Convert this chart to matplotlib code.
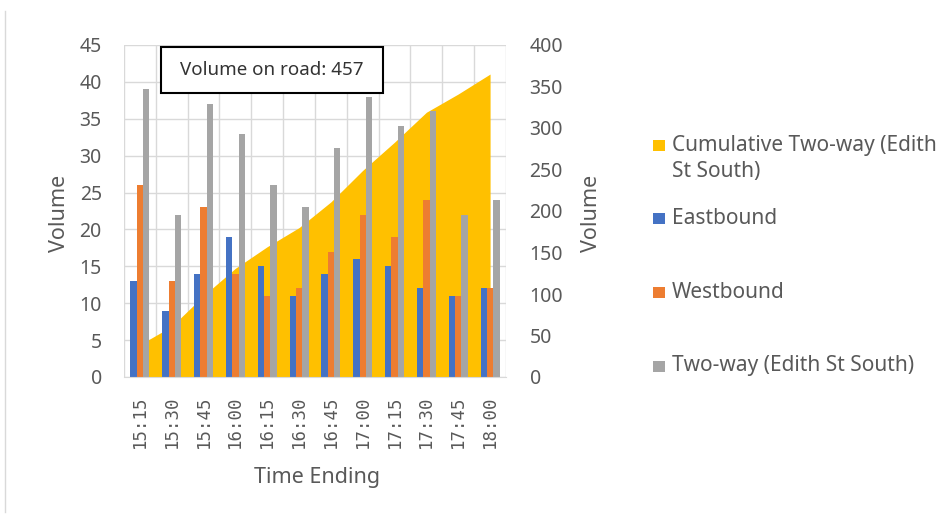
import numpy as np
import matplotlib
matplotlib.use("Agg")
import matplotlib.pyplot as plt
from matplotlib.patches import Rectangle
from matplotlib.lines import Line2D

plt.rcParams['font.family'] = ['Noto Sans', 'DejaVu Sans']

# data
times = ["15:15", "15:30", "15:45", "16:00", "16:15", "16:30",
         "16:45", "17:00", "17:15", "17:30", "17:45", "18:00"]
eastbound = [13, 9, 14, 19, 15, 11, 14, 16, 15, 12, 11, 12]
westbound = [26, 13, 23, 14, 11, 12, 17, 22, 19, 24, 11, 12]
two_way = [39, 22, 37, 33, 26, 23, 31, 38, 34, 36, 22, 24]
cumulative = [39, 61, 98, 131, 157, 180, 211, 249, 283, 319, 341, 365]
volume_on_road = 457

c_blue = "#4472C4"
c_orange = "#ED7D31"
c_gray = "#A5A5A5"
c_yellow = "#FFC000"
c_text = "#595959"
tick_size = 14
title_size = 15.5
legend_size = 15

W, H = 953, 514
fig = plt.figure(figsize=(W / 100, H / 100), dpi=100)
pos = [124 / W, 1 - 377 / H, (506 - 124) / W, (377 - 45) / H]

x = np.arange(len(times))

# background axes only for the gridlines (so the area sits on top of them)
gax = fig.add_axes(pos, zorder=0)
gax.set_xlim(-0.5, len(times) - 0.5)
gax.set_ylim(0, 45)
gax.set_xticks(np.arange(-0.5, len(times), 1))
gax.set_yticks(np.arange(0, 46, 5))
gax.grid(True, color="#d9d9d9", linewidth=1)
gax.tick_params(length=0, labelleft=False, labelbottom=False)
for s in gax.spines.values():
    s.set_visible(False)

ax = fig.add_axes(pos, zorder=2)
ax2 = ax.twinx()
ax2.set_zorder(1)
ax.patch.set_visible(False)
ax2.patch.set_visible(False)

# cumulative area on the secondary axis
ax2.fill_between(x, cumulative, color=c_yellow, linewidth=0)
ax2.set_ylim(0, 400)
ax2.set_yticks(np.arange(0, 401, 50))

bw = 0.2
ax.bar(x - bw, eastbound, bw, color=c_blue)
ax.bar(x, westbound, bw, color=c_orange)
ax.bar(x + bw, two_way, bw, color=c_gray)
ax.set_xlim(-0.5, len(times) - 0.5)
ax.set_ylim(0, 45)
ax.set_yticks(np.arange(0, 46, 5))
ax.set_xticks(x)
ax.set_xticklabels(times, rotation=90, family="DejaVu Sans Mono", fontsize=12.5)

for a in (ax, ax2):
    for s in a.spines.values():
        s.set_visible(False)
ax.spines["bottom"].set_visible(True)
ax.spines["bottom"].set_color("#d9d9d9")
ax.tick_params(axis="x", length=0, pad=13, labelcolor=c_text)
ax.tick_params(axis="y", length=0, pad=16, labelsize=tick_size, labelcolor=c_text)
ax2.tick_params(axis="y", length=0, pad=17, labelsize=tick_size, labelcolor=c_text)

fig.text(60 / W, 1 - 213 / H, "Volume", rotation=90, ha="center", va="center",
         fontsize=title_size, color=c_text)
fig.text(592 / W, 1 - 213 / H, "Volume", rotation=90, ha="center", va="center",
         fontsize=title_size, color=c_text)
fig.text(317 / W, 1 - 477 / H, "Time Ending", ha="center", va="center",
         fontsize=title_size, color=c_text)

# text box
fig.patches.append(Rectangle((161 / W, 1 - 93 / H), 222 / W, 46 / H,
                             transform=fig.transFigure, facecolor="white",
                             edgecolor="black", linewidth=1.5, zorder=5))
fig.text(272 / W, 1 - 70 / H, f"Volume on road: {volume_on_road}",
         ha="center", va="center", fontsize=13.5, color="#333333", zorder=6)

# legend, laid out like the Excel one
legend_items = [("Cumulative Two-way (Edith\nSt South)", c_yellow, 145, 158.5),
                ("Eastbound", c_blue, 218, 218),
                ("Westbound", c_orange, 292, 292),
                ("Two-way (Edith St South)", c_gray, 366, 366)]
for label, col, ym, yt in legend_items:
    fig.patches.append(Rectangle((653 / W, 1 - (ym + 6) / H), 12 / W, 11 / H,
                                 transform=fig.transFigure, facecolor=col,
                                 edgecolor="none"))
    fig.text(672 / W, 1 - yt / H, label, ha="left", va="center",
             fontsize=legend_size, color=c_text, linespacing=1.3)

# chart border on the left
fig.add_artist(Line2D([5 / W, 5 / W], [2 / H, 1 - 11 / H], color="#d9d9d9",
                      linewidth=1, transform=fig.transFigure))

plt.savefig("out.png", dpi=100)
